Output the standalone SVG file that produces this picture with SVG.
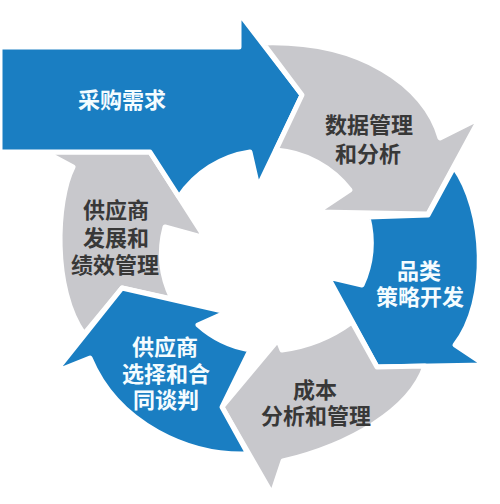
<svg xmlns="http://www.w3.org/2000/svg" width="500" height="504" viewBox="0 0 500 504">
<style>
.blue{fill:#1a7ec2;stroke:#ffffff;stroke-width:5;stroke-linejoin:round}
.gray{fill:#c8c8cc;stroke:#ffffff;stroke-width:5;stroke-linejoin:round}
text{font-family:"Noto Sans CJK SC","Noto Sans CJK TC",sans-serif;font-size:22px;font-weight:700;text-anchor:middle;dominant-baseline:central}
.tw{fill:#f4fcff}
.td{fill:#383838}
</style>
<rect x="0" y="0" width="500" height="504" fill="#ffffff"/>
<g id="node-fazhan">
<path class="gray" d="M45,152 H150 L205,238 L165,227 A103,103 0 0 0 172,299 L122,288 L84,334 C52,290 56,200 73,167 Z"/>
<text class="td"><tspan x="116" y="208">供应商</tspan><tspan x="116" y="236">发展和</tspan><tspan x="115" y="263">绩效管理</tspan></text>
</g>
<g id="node-caigou">
<path class="blue" d="M0,47 H239 V13 L302,95 L258,187 L250,152 A103,103 0 0 0 179,197 L150,152 H0 Z"/>
<text class="tw" x="122" y="98">采购需求</text>
</g>
<g id="node-shuju">
<path class="gray" d="M263,43 L302,95 L276,150 A103,103 0 0 1 350,190 L317,212 L428,214 L480,118 L440,138 C425,85 360,40 263,43 Z"/>
<text class="td"><tspan x="369" y="123">数据管理</tspan><tspan x="368" y="152">和分析</tspan></text>
</g>
<g id="node-pinlei">
<path class="blue" d="M368,217 L428,215 L454,167 C485,210 490,300 455,345 L485,365 L377,367 L328,277 L362,285 A103,103 0 0 0 368,217 Z"/>
<text class="tw"><tspan x="419" y="269">品类</tspan><tspan x="420" y="295">策略开发</tspan></text>
</g>
<g id="node-chengben">
<path class="gray" d="M222,407 L278,340 L282,350 A150,150 0 0 0 352,322 L377,367 L425,366 C410,410 350,445 283,461 L272,494 Z"/>
<text class="td"><tspan x="315" y="388">成本</tspan><tspan x="316" y="414">分析和管理</tspan></text>
</g>
<g id="node-xuanze">
<path class="blue" d="M122,288 L227,312 L198,325 A103,103 0 0 0 250,350 L222,407 L248,454 C190,456 118,425 90,358 L55,372 Z"/>
<text class="tw"><tspan x="165" y="345">供应商</tspan><tspan x="166" y="372">选择和合</tspan><tspan x="166" y="398">同谈判</tspan></text>
</g>
</svg>
